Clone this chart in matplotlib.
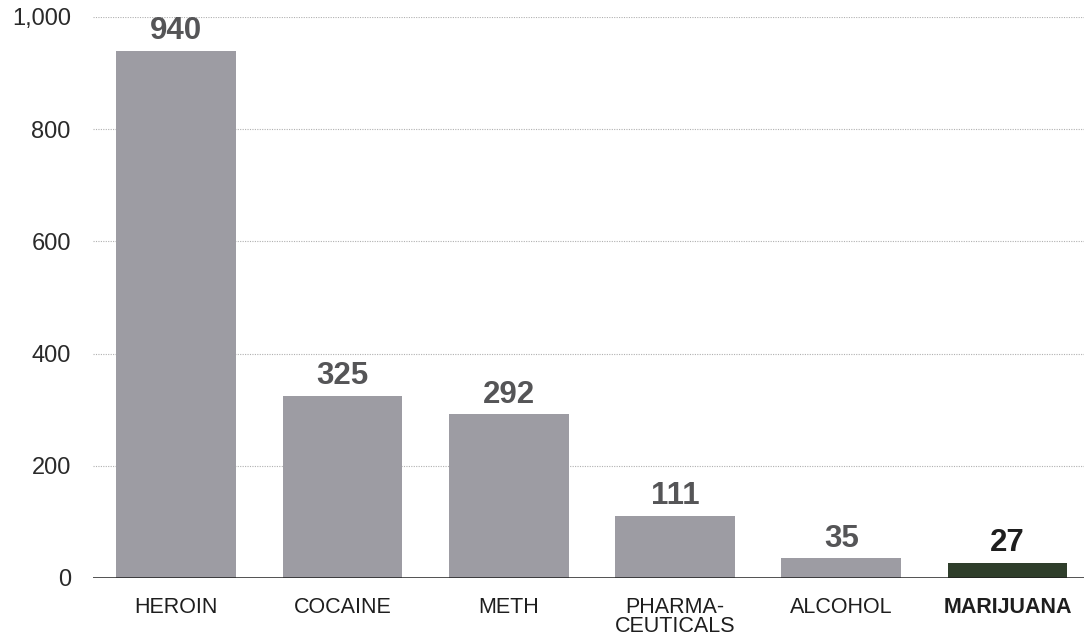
import matplotlib
matplotlib.use("Agg")
import matplotlib.pyplot as plt

categories = ["HEROIN", "COCAINE", "METH", "PHARMA-\nCEUTICALS", "ALCOHOL", "MARIJUANA"]
values = [940, 325, 292, 111, 35, 27]
yticks = [0, 200, 400, 600, 800, 1000]
ytick_labels = ["0", "200", "400", "600", "800", "1,000"]

gray = "#9d9ca3"
green = "#2f3e2b"
colors = [gray] * 5 + [green]

plt.rcParams['font.family'] = ['Liberation Sans', 'DejaVu Sans']

fig = plt.figure(figsize=(10.84, 6.4), dpi=100)
ax = fig.add_axes([93/1084, 62/640, 1 - 93/1084, (578 - 17)/640])

x = list(range(len(categories)))
ax.bar(x, values, width=0.72, color=colors, zorder=2)

for i, v in enumerate(values):
    c = "#1e1e1e" if i == len(values) - 1 else "#555557"
    ax.text(i, v + 8, str(v), ha="center", va="bottom", fontsize=22.5,
            fontweight="bold", color=c)

ax.set_xlim(-0.5, 5.46)
ax.set_ylim(0, 1000)
ax.set_yticks(yticks)
ax.set_yticklabels(ytick_labels, fontsize=17, color="#2a2a2a")
ax.set_xticks(x)
ax.set_xticklabels(categories, fontsize=15.5, color="#1e1e1e", linespacing=0.85)
ax.get_xticklabels()[-1].set_fontweight("bold")
ax.tick_params(axis="both", length=0)
ax.tick_params(axis="y", pad=16)
ax.tick_params(axis="x", pad=14)

for t in yticks[1:]:
    ax.axhline(t, color="#b0b0b0", lw=0.8, ls=(0, (1, 1.2)), zorder=1)
ax.axhline(0, color="#1e1e1e", lw=1.8, zorder=3)

for s in ax.spines.values():
    s.set_visible(False)

fig.savefig("out.png", dpi=100)
